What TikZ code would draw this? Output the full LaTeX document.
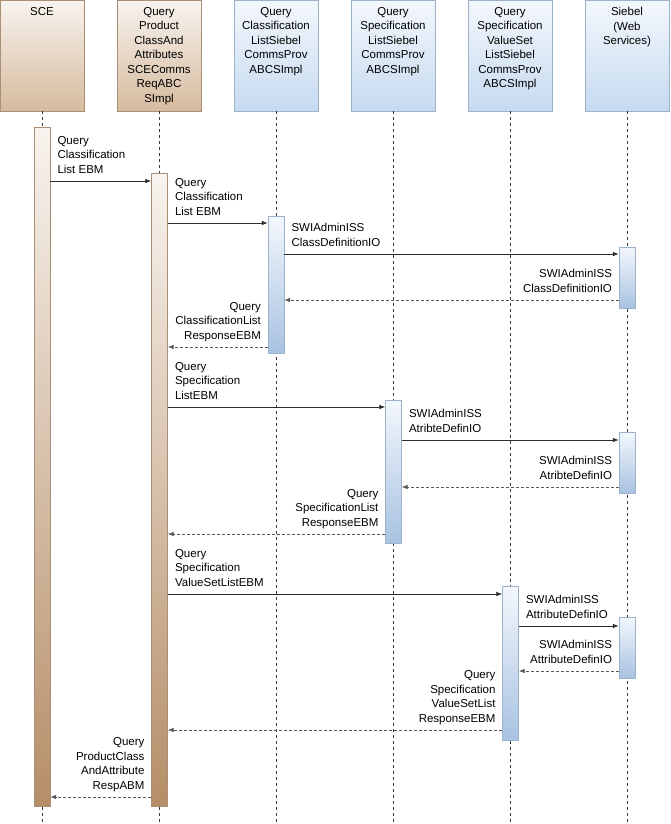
\documentclass[tikz,border=0pt]{standalone}
\usepackage{fontspec}
\setmainfont{Liberation Sans}
\usetikzlibrary{arrows.meta,positioning}
\definecolor{tanlt}{HTML}{F8F3EE}
\definecolor{tandk}{HTML}{D6BB9E}
\definecolor{tanbar}{HTML}{B58E67}
\definecolor{tanedge}{HTML}{A88F76}
\definecolor{bluelt}{HTML}{F3F7FC}
\definecolor{bluedk}{HTML}{C6DAF0}
\definecolor{bluebar}{HTML}{A8C2E1}
\definecolor{blueedge}{HTML}{9DB3CB}
\definecolor{msgcol}{HTML}{2E2E2E}
\definecolor{lifecol}{HTML}{3A3A3A}
\tikzset{
  % participant head box
  headbox/.style={rectangle, draw=#1edge, top color=#1lt, bottom color=#1dk,
                  minimum width=84pt, minimum height=111pt, anchor=north, inner sep=0pt},
  % text inside the head box
  headtext/.style={font=\fontsize{11.5}{14.5}\selectfont, align=center, anchor=north,
                   inner sep=0pt, yshift=-7pt},
  % activation bar
  actbar/.style={rectangle, draw=#1edge, top color=#1lt, bottom color=#1bar,
                 minimum width=16pt, anchor=north, inner sep=0pt},
  % dashed lifeline
  lifeline/.style={draw=lifecol, dash pattern=on 3pt off 3pt, line width=0.6pt},
  % synchronous call
  call/.style={-{Latex[length=6pt,width=4.5pt]}, draw=msgcol, line width=0.7pt},
  % return message
  reply/.style={-{Latex[length=6pt,width=4.5pt]}, draw=msgcol!80, dash pattern=on 3pt off 2pt, line width=0.7pt},
  % label left aligned, right of the start point
  lblR/.style={font=\fontsize{11.5}{14.5}\selectfont, align=left, anchor=south west,
               inner sep=0pt, text depth=0pt, xshift=7pt, yshift=7.5pt},
  % label right aligned, left of the start point
  lblL/.style={font=\fontsize{11.5}{14.5}\selectfont, align=right, anchor=south east,
               inner sep=0pt, text depth=0pt, xshift=-6.5pt, yshift=7.5pt},
}
\begin{document}
\begin{tikzpicture}[x=1pt, y=-1pt]
  \useasboundingbox (0,0) rectangle (670,824);

  % participants
  \node[headbox=tan, label={[headtext]north:SCE}] (sce) at (42,0) {};
  \node[headbox=tan, label={[headtext]north:{Query\\Product\\ClassAnd\\Attributes\\SCEComms\\ReqABC\\SImpl}}] (prodabcs) at (159,0) {};
  \node[headbox=blue, label={[headtext]north:{Query\\Classification\\ListSiebel\\CommsProv\\ABCSImpl}}] (clsabcs) at (276,0) {};
  \node[headbox=blue, label={[headtext]north:{Query\\Specification\\ListSiebel\\CommsProv\\ABCSImpl}}] (specabcs) at (393,0) {};
  \node[headbox=blue, label={[headtext]north:{Query\\Specification\\ValueSet\\ListSiebel\\CommsProv\\ABCSImpl}}] (valabcs) at (510,0) {};
  \node[headbox=blue, label={[headtext]north:{Siebel\\(Web\\Services)}}] (siebel) at (627,0) {};

  % lifelines
  \foreach \p in {sce,prodabcs,clsabcs,specabcs,valabcs,siebel}
    \draw[lifeline] (\p.south) -- (\p.south |- 0,824);

  % activations
  \node[actbar=tan, minimum height=679pt] (sceact) at (42,127) {};
  \node[actbar=tan, minimum height=633pt] (prodact) at (159.5,173) {};
  \node[actbar=blue, minimum height=137pt] (clsact) at (276,216) {};
  \node[actbar=blue, minimum height=61pt] (siebelactA) at (627,247) {};
  \node[actbar=blue, minimum height=143pt] (specact) at (393.5,400) {};
  \node[actbar=blue, minimum height=61pt] (siebelactB) at (627,432) {};
  \node[actbar=blue, minimum height=154pt] (valact) at (510.5,586) {};
  \node[actbar=blue, minimum height=61pt] (siebelactC) at (627,617) {};

  % classification list
  \draw[call] (sceact.east |- 0,181) node[lblR] (m1) {Query\\Classification\\List EBM} -- (prodact.west |- 0,181);
  \draw[call] (prodact.east |- 0,223) node[lblR] (m2) {Query\\Classification\\List EBM} -- (clsact.west |- 0,223);
  \draw[call] (clsact.east |- 0,254) node[lblR] (m3) {SWIAdminISS\\ClassDefinitionIO} -- (siebelactA.west |- 0,254);
  \draw[reply] (siebelactA.west |- 0,300) node[lblL] (r3) {SWIAdminISS\\ClassDefinitionIO} -- (clsact.east |- 0,300);
  \draw[reply] (clsact.west |- 0,347) node[lblL] (r2) {Query\\ClassificationList\\ResponseEBM} -- (prodact.east |- 0,347);

  % specification list
  \draw[call] (prodact.east |- 0,407) node[lblR] (m4) {Query\\Specification\\ListEBM} -- (specact.west |- 0,407);
  \draw[call] (specact.east |- 0,440) node[lblR] (m5) {SWIAdminISS\\AtribteDefinIO} -- (siebelactB.west |- 0,440);
  \draw[reply] (siebelactB.west |- 0,487) node[lblL] (r5) {SWIAdminISS\\AtribteDefinIO} -- (specact.east |- 0,487);
  \draw[reply] (specact.west |- 0,534) node[lblL] (r4) {Query\\SpecificationList\\ResponseEBM} -- (prodact.east |- 0,534);

  % specification value set list
  \draw[call] (prodact.east |- 0,594) node[lblR] (m6) {Query\\Specification\\ValueSetListEBM} -- (valact.west |- 0,594);
  \draw[call] (valact.east |- 0,626) node[lblR] (m7) {SWIAdminISS\\AttributeDefinIO} -- (siebelactC.west |- 0,626);
  \draw[reply] (siebelactC.west |- 0,671) node[lblL] (r7) {SWIAdminISS\\AttributeDefinIO} -- (valact.east |- 0,671);
  \draw[reply] (valact.west |- 0,730) node[lblL] (r6) {Query\\Specification\\ValueSetList\\ResponseEBM} -- (prodact.east |- 0,730);

  % final response
  \draw[reply] (prodact.west |- 0,797) node[lblL] (r1) {Query\\ProductClass\\AndAttribute\\RespABM} -- (sceact.east |- 0,797);
\end{tikzpicture}
\end{document}
